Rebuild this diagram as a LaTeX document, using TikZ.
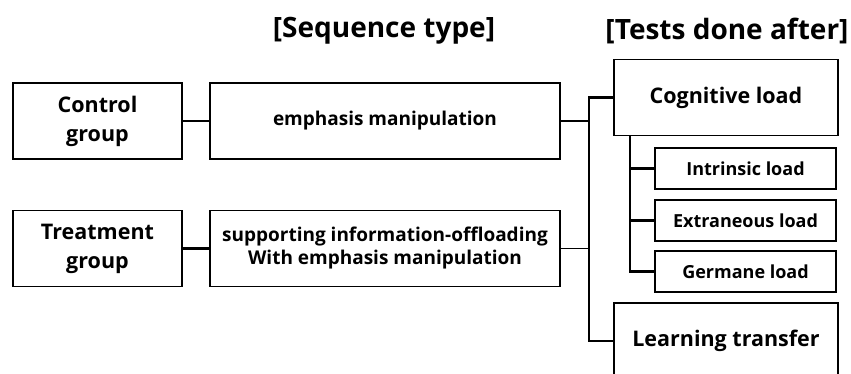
\documentclass[tikz,border=0pt]{standalone}
\usepackage{fontspec}
\setmainfont{Open Sans}
\usetikzlibrary{positioning, calc}
\tikzset{
  groupbox/.style={rectangle, draw=black, line width=1.3pt, fill=white,
                   minimum width=169pt, minimum height=76pt, align=center,
                   font=\fontsize{21.5}{29}\selectfont\bfseries},
  seqbox/.style={groupbox, minimum width=350pt, font=\fontsize{19}{23}\selectfont\bfseries},
  testbox/.style={groupbox, minimum width=224pt, font=\fontsize{21.5}{24}\selectfont\bfseries},
  subbox/.style={groupbox, minimum width=181pt, minimum height=41pt,
                 font=\fontsize{18}{20}\selectfont\bfseries},
  heading/.style={font=\fontsize{28}{32}\selectfont\bfseries},
  link/.style={line width=2.2pt, color=black},
  thinlink/.style={line width=0.7pt, color=black},
}

\begin{document}
\begin{tikzpicture}[x=1pt, y=-1pt]
        \useasboundingbox (0,0) rectangle (851,374);

        % Column headings
        \node[heading] (hseq) at (384,31) {[Sequence type]};
        \node[heading] (htest) at (727,31) {[Tests done after]};

        % Groups and sequences
        \node[groupbox] (ctrl) at (97.5,121) {Control\\group};
        \node[seqbox] (emph) at (385,121) {emphasis manipulation};
        \node[groupbox] (treat) at (97.5,248.5) {Treatment\\group};
        \node[seqbox] (supp) at (385,248.5) {supporting information-offloading\\With emphasis manipulation};

        % Tests
        \node[testbox] (cog) at (726,97.5) {Cognitive load};
        \node[subbox] (intr) at (745.5,168.5) {Intrinsic load};
        \node[subbox] (extr) at (745.5,220.5) {Extraneous load};
        \node[subbox] (germ) at (745.5,271.5) {Germane load};
        \node[testbox] (learn) at (726,341) {Learning transfer};

        % Group -> sequence links
        \draw[link] (ctrl) -- (emph);
        \draw[link] (treat) -- (supp);

        % Bus to the tests
        \draw[link] (cog.west) -- ++(-24,0) coordinate (bus) |- (learn.west);
        \draw[link] (emph.east) -- (emph.east -| bus);
        \draw[thinlink] (supp.east) -- (supp.east -| bus);

        % Cognitive load parts
        \draw[link] ([xshift=17pt]cog.south west) coordinate (subbus) |- (germ.west);
        \draw[link] (intr.west) -- (intr.west -| subbus);
        \draw[link] (extr.west) -- (extr.west -| subbus);
      \end{tikzpicture}
\end{document}
